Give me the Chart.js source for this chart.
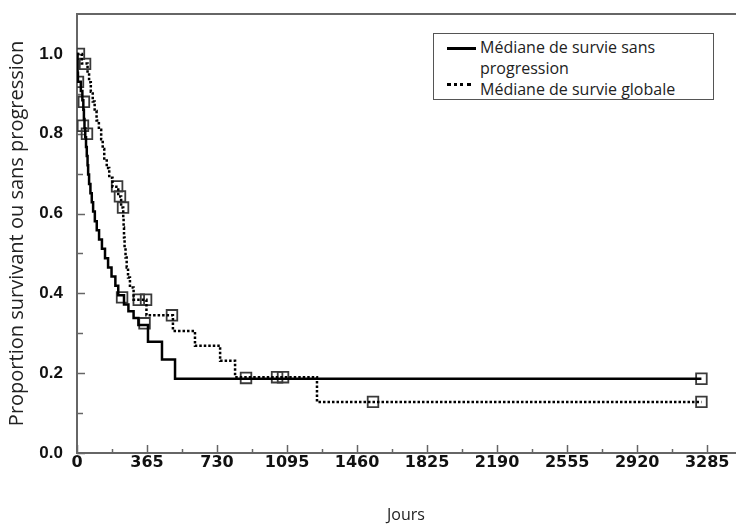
<!DOCTYPE html>
<html>
<head>
<meta charset="utf-8">
<script src="https://cdn.jsdelivr.net/npm/chart.js@4"></script>
<style>
  html, body { margin: 0; padding: 0; background: #fff; }
  #wrap { position: relative; width: 736px; height: 526px; }
  #legend {
    position: absolute; left: 433px; top: 33px; width: 279px; height: 65px;
    border: 1px solid #555; background: #fff;
    font-family: 'Open Sans', sans-serif; font-size: 16px; line-height: 21px; color: #222;
  }
  #legend .txt { position: absolute; left: 46px; white-space: nowrap; }
  #legend .solid { position: absolute; left: 13px; top: 13px; width: 29px; border-top: 3px solid #000; }
  #legend .dots { position: absolute; left: 13px; top: 49px; width: 24px; border-top: 3px dotted #000; }
</style>
</head>
<body>
<div id="wrap">
  <canvas id="c" width="736" height="526"></canvas>
  <div id="legend">
    <div class="solid"></div>
    <div class="txt" style="top:3px">Médiane de survie sans</div>
    <div class="txt" style="top:24px">progression</div>
    <div class="dots"></div>
    <div class="txt" style="top:45px">Médiane de survie globale</div>
  </div>
</div>
<script>
// Survie sans progression (solid)
const pfsDays = [0, 3, 5, 20, 28, 33, 36, 39, 43, 47, 51, 55, 58, 63, 70, 77, 84, 93, 103, 115, 130, 146, 162, 180, 200, 215, 245, 268, 295, 320, 370, 443, 511, 3255];
const pfsSurv = [1.0, 0.953, 0.93, 0.907, 0.884, 0.86, 0.837, 0.814, 0.791, 0.767, 0.744, 0.721, 0.698, 0.674, 0.651, 0.628, 0.605, 0.581, 0.558, 0.535, 0.512, 0.488, 0.465, 0.442, 0.419, 0.395, 0.372, 0.355, 0.338, 0.321, 0.279, 0.234, 0.186, 0.186];
const pfsCensorDays = [5, 36, 31, 52, 235, 352, 3255];
const pfsCensorSurv = [0.93, 0.88, 0.82, 0.80, 0.39, 0.325, 0.186];

// Survie globale (dotted)
const osDays = [0, 25, 55, 63, 72, 82, 92, 102, 114, 126, 134, 142, 155, 168, 185, 215, 230, 241, 243, 245, 248, 253, 259, 266, 276, 295, 362, 500, 615, 746, 824, 1251, 3255];
const osSurv = [1.0, 0.976, 0.952, 0.929, 0.905, 0.881, 0.857, 0.833, 0.81, 0.786, 0.762, 0.738, 0.714, 0.69, 0.667, 0.643, 0.615, 0.59, 0.565, 0.54, 0.515, 0.49, 0.465, 0.44, 0.415, 0.384, 0.345, 0.306, 0.269, 0.231, 0.19, 0.128, 0.128];
const osCensorDays = [10, 42, 209, 224, 240, 322, 360, 495, 881, 1043, 1074, 1543, 3255];
const osCensorSurv = [1.0, 0.975, 0.668, 0.643, 0.615, 0.384, 0.384, 0.345, 0.188, 0.19, 0.19, 0.128, 0.128];

const xTickLabels = [0, 365, 730, 1095, 1460, 1825, 2190, 2555, 2920, 3285];
const yTickLabels = [0.0, 0.2, 0.4, 0.6, 0.8, 1.0];

const toXY = (xs, ys) => xs.map((x, i) => ({ x: x, y: ys[i] }));

const tickPlugin = {
  id: 'inwardTicks',
  beforeDatasetsDraw(chart) {
    const ctx = chart.ctx;
    const ca = chart.chartArea;
    const xs = chart.scales.x, ys = chart.scales.y;
    ctx.save();
    ctx.strokeStyle = '#666';
    // top frame line
    ctx.beginPath();
    ctx.lineWidth = 2;
    ctx.moveTo(ca.left, ca.top);
    ctx.lineTo(ca.right + 1, ca.top);
    ctx.stroke();
    ctx.lineWidth = 1.5;
    xs.ticks.forEach(t => {
      const v = t.value;
      const k = v / 182.5;
      if (Math.abs(k - Math.round(k)) > 1e-6) return;
      const major = Math.round(k) % 2 === 0;
      const px = Math.round(xs.getPixelForValue(v)) + 0.5;
      ctx.beginPath();
      ctx.moveTo(px, ca.bottom);
      ctx.lineTo(px, ca.bottom - (major ? 8 : 4));
      ctx.stroke();
    });
    ys.ticks.forEach(t => {
      const v = t.value;
      if (v > 1.05) return;
      const k = Math.round(v * 10);
      const major = k % 2 === 0;
      const py = Math.round(ys.getPixelForValue(v)) + 0.5;
      ctx.beginPath();
      ctx.moveTo(ca.left, py);
      ctx.lineTo(ca.left + (major ? 8 : 6), py);
      ctx.stroke();
    });
    ctx.restore();
  }
};

new Chart(document.getElementById('c'), {
  type: 'line',
  data: {
    datasets: [
      {
        label: 'Médiane de survie sans progression',
        data: toXY(pfsDays, pfsSurv),
        stepped: true,
        borderColor: '#000',
        borderWidth: 2.5,
        pointRadius: 0,
        fill: false
      },
      {
        label: 'Médiane de survie globale',
        data: toXY(osDays, osSurv),
        stepped: true,
        borderColor: '#000',
        borderWidth: 2.5,
        borderDash: [2.5, 2],
        pointRadius: 0,
        fill: false
      },
      {
        type: 'scatter',
        label: 'censure sans progression',
        data: toXY(pfsCensorDays, pfsCensorSurv),
        showLine: false,
        pointStyle: 'rect',
        pointRadius: 7.5,
        pointBorderColor: '#3a3a3a',
        pointBorderWidth: 1.8,
        pointBackgroundColor: 'rgba(255,255,255,0)'
      },
      {
        type: 'scatter',
        label: 'censure globale',
        data: toXY(osCensorDays, osCensorSurv),
        showLine: false,
        pointStyle: 'rect',
        pointRadius: 7.5,
        pointBorderColor: '#3a3a3a',
        pointBorderWidth: 1.8,
        pointBackgroundColor: 'rgba(255,255,255,0)'
      }
    ]
  },
  options: {
    responsive: false,
    devicePixelRatio: 1,
    animation: false,
    layout: { autoPadding: false, padding: { top: 14, right: 1, left: 0, bottom: 0 } },
    plugins: { legend: { display: false }, tooltip: { enabled: false } },
    scales: {
      x: {
        type: 'linear',
        position: 'bottom',
        min: 0,
        max: 3430,
        grid: { display: false, drawTicks: false },
        border: { display: true, color: '#666', width: 2 },
        afterBuildTicks: (s) => {
          const vals = [];
          xTickLabels.forEach((v, i) => {
            vals.push(v);
            if (i < xTickLabels.length - 1) vals.push((v + xTickLabels[i + 1]) / 2);
          });
          s.ticks = vals.map(v => ({ value: v }));
        },
        ticks: {
          autoSkip: false,
          maxRotation: 0,
          padding: 0,
          color: '#111',
          font: { family: "'DejaVu Sans'", weight: 'bold', size: 16 },
          callback: (v) => {
            const hit = xTickLabels.find(l => Math.abs(l - v) < 1e-6);
            return hit === undefined ? '' : String(hit);
          }
        },
        title: {
          display: true,
          text: 'Jours',
          color: '#222',
          font: { family: "'Open Sans'", size: 16 },
          padding: { top: 0, bottom: 1 }
        },
        afterFit: (s) => { s.height = 73; s.paddingLeft = 0; s.paddingRight = 0; }
      },
      y: {
        type: 'linear',
        min: 0,
        max: 1.1,
        grid: { display: false, drawTicks: false },
        border: { display: true, color: '#666', width: 2 },
        ticks: {
          stepSize: 0.1,
          autoSkip: false,
          padding: 14,
          color: '#111',
          font: { family: "'Liberation Sans'", weight: 'bold', size: 17 },
          callback: (v) => {
            const hit = yTickLabels.find(l => Math.abs(l - v) < 1e-6);
            return hit === undefined ? '' : hit.toFixed(1);
          }
        },
        title: {
          display: true,
          text: 'Proportion survivant ou sans progression',
          color: '#222',
          font: { family: "'Open Sans'", size: 20 },
          padding: { top: 5, bottom: 0 }
        },
        afterFit: (s) => { s.width = 77; s.paddingTop = 0; s.paddingBottom = 0; }
      }
    }
  },
  plugins: [tickPlugin]
});
</script>
</body>
</html>
